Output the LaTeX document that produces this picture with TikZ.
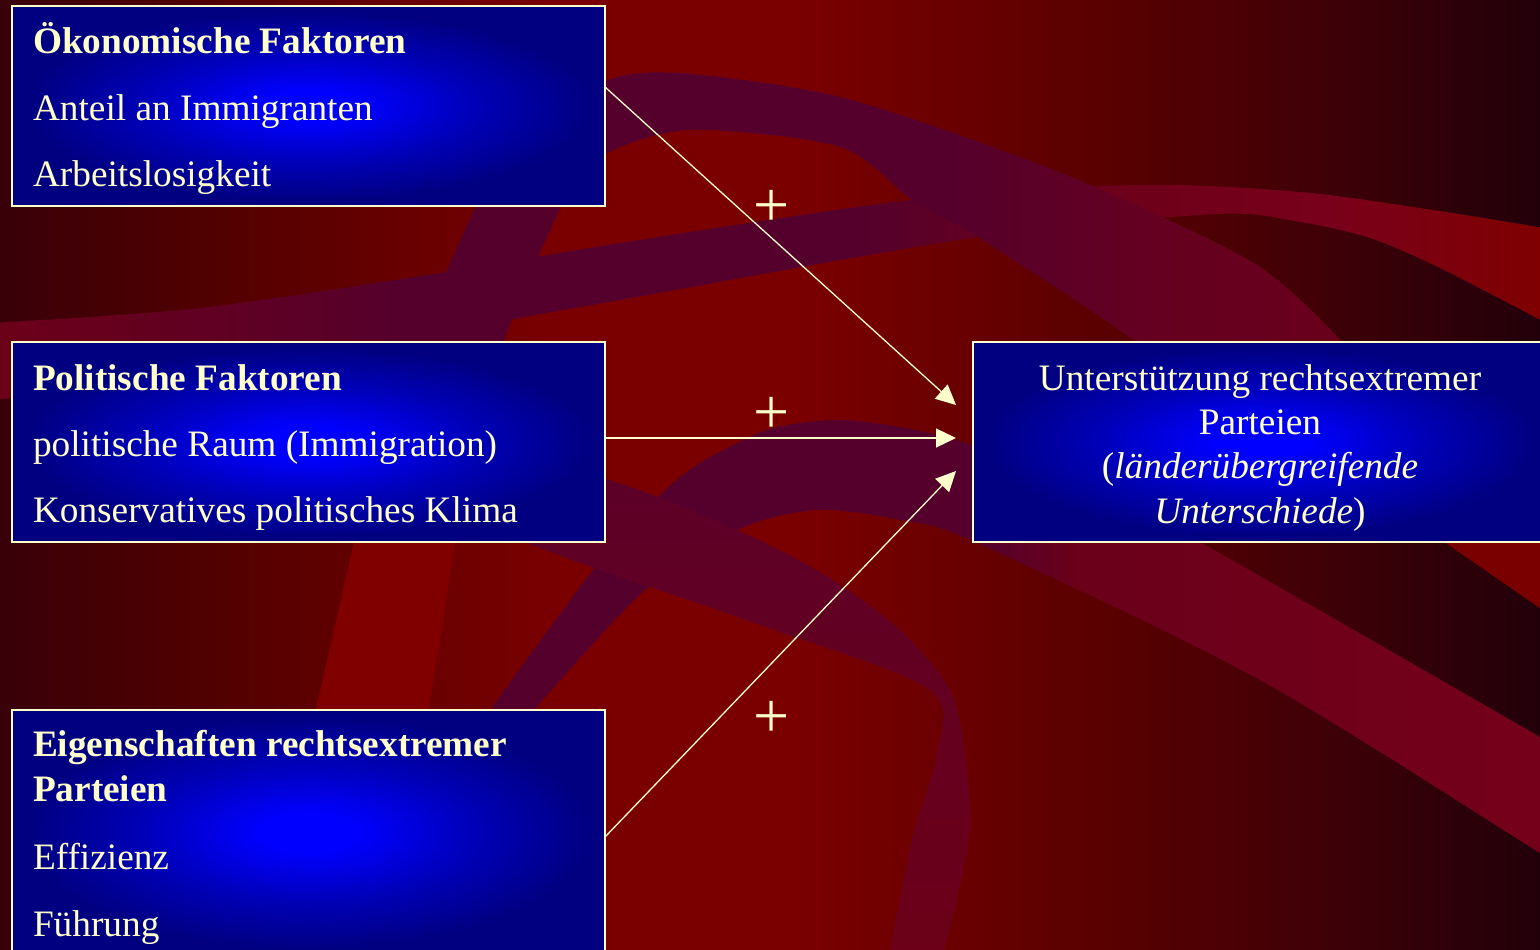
\documentclass[tikz,border=0pt]{standalone}
\usepackage{fontspec}
\setmainfont{Liberation Serif}
\usetikzlibrary{arrows.meta}
\definecolor{cream}{HTML}{FFFFCC}
\definecolor{bgA}{HTML}{380008}
\definecolor{bgB}{HTML}{520000}
\definecolor{bgC}{HTML}{7A0000}
\definecolor{bgD}{HTML}{5A0000}
\definecolor{bgE}{HTML}{420006}
\definecolor{bgF}{HTML}{22000A}
\definecolor{purp}{HTML}{55002C}
\definecolor{crimA}{HTML}{6C0018}
\definecolor{crimB}{HTML}{5A0028}
\definecolor{crimC}{HTML}{6A001A}
\definecolor{crimD}{HTML}{78001A}
\definecolor{redA}{HTML}{800000}
\definecolor{arcR}{HTML}{650020}
\definecolor{cCa}{HTML}{5C0028}
\definecolor{cCb}{HTML}{6C0018}
\definecolor{bBr}{HTML}{76001A}
\definecolor{boxC}{HTML}{0000FF}
\definecolor{boxM}{HTML}{0000B8}
\definecolor{boxE}{HTML}{000080}
\pgfdeclarehorizontalshading{bgshade}{100bp}{color(0bp)=(bgA); color(25bp)=(bgA); color(32.1bp)=(bgB); color(43.2bp)=(bgC); color(51bp)=(bgC); color(60.7bp)=(bgD); color(67.2bp)=(bgE); color(75bp)=(bgF); color(100bp)=(bgF)}
\pgfdeclarehorizontalshading{bandLshade}{100bp}{color(0bp)=(crimA); color(25bp)=(crimA); color(36bp)=(crimB); color(38bp)=(purp); color(53bp)=(purp); color(59bp)=(crimC); color(68bp)=(crimD); color(75bp)=(redA); color(100bp)=(redA)}
\pgfdeclarehorizontalshading{arcshade}{100bp}{color(0bp)=(purp); color(25bp)=(purp); color(52bp)=(purp); color(62bp)=(arcR); color(75bp)=(crimC); color(100bp)=(crimC)}
\pgfdeclarehorizontalshading{bandBshade}{100bp}{color(0bp)=(purp); color(25bp)=(purp); color(48bp)=(purp); color(52bp)=(crimC); color(75bp)=(bBr); color(100bp)=(bBr)}
\pgfdeclareradialshading{boxshade}{\pgfpoint{0bp}{0bp}}{color(0bp)=(boxC); color(4bp)=(boxC); color(14bp)=(boxM); color(24bp)=(boxE); color(50bp)=(boxE)}
\begin{document}
\begin{tikzpicture}[x=1pt,y=-1pt,
  txt/.style={text=cream, inner sep=0pt, outer sep=0pt, font=\fontsize{37.3}{44}\selectfont},
  fbox/.style={rectangle, draw=cream, line width=1.4pt, shade, shading=boxshade, inner sep=0pt, outer sep=0pt},
  conn/.style={draw=cream, line width=1.3pt, -{Triangle[length=20pt,width=19pt]}},
  plussign/.style={text=cream, inner sep=0pt, outer sep=0pt, font=\fontsize{64}{64}\selectfont, anchor=base}]
\useasboundingbox (0,0) rectangle (1540,950);
% background
\shade[shading=bgshade] (0,0) rectangle (1540,950);
\fill[redA] (359,520) -- (459,520) -- (424,740) -- (309,740) -- cycle;
\shade[shading=bandLshade] plot[smooth] coordinates {(-10,323) (200,308) (447,272) (620,243) (912,200) (1140,185) (1300,192) (1433,210) (1550,229)} -- plot[smooth] coordinates {(1550,325) (1440,268) (1370,238) (1300,222) (1217,214) (978,237) (620,300) (510,320) (420,342) (300,370) (-10,400)} -- cycle;
\shade[shading=arcshade] plot[smooth] coordinates {(400,400) (419,340) (476,207) (530,138) (600,83) (678,73) (840,97) (1020,157) (1140,207) (1260,267) (1343,343) (1420,440)} -- plot[smooth] coordinates {(1250,440) (1140,345) (978,237) (912,200) (840,147) (690,130) (600,157) (561,207) (504,340) (485,400)} -- cycle;
\shade[shading=bandBshade] plot[smooth] coordinates {(470,740) (490,710) (593,570) (658,497) (700,463) (767,430) (833,420) (900,427) (972,445) (1100,490) (1200,542) (1540,737) (1570,755)} -- plot[smooth] coordinates {(1570,870) (1540,853) (1260,680) (975,542) (900,520) (817,510) (737,530) (645,590) (534,710) (515,740)} -- cycle;
\shade[top color=cCa, bottom color=cCb] plot[smooth] coordinates {(540,460) (600,477) (658,497) (759,540) (833,580) (900,630) (950,690) (966,760) (969,840) (942,960)} -- plot[smooth] coordinates {(888,960) (912,840) (936,757) (930,690) (760,625) (600,570) (526,543) (480,525)} -- cycle;
\fill[bgC] (1427,530) -- (1560,530) -- (1560,622) -- cycle;
% boxes
\node[fbox, minimum width=593pt, minimum height=200pt] (b1) at (308.5,106) {};
\node[fbox, minimum width=593pt, minimum height=200pt] (b2) at (308.5,442) {};
\node[fbox, minimum width=593pt, minimum height=245pt] (b3) at (308.5,832.5) {};
\node[fbox, minimum width=575pt, minimum height=200pt] (r) at (1260.5,442) {};
% texts box 1
\node[txt, anchor=base west] (b1h) at (33,54) {\bfseries Ökonomische Faktoren};
\node[txt, anchor=base west] (b1a) at (33,120) {Anteil an Immigranten};
\node[txt, anchor=base west] (b1b) at (33,186) {Arbeitslosigkeit};
% texts box 2
\node[txt, anchor=base west] (b2h) at (33,390) {\bfseries Politische Faktoren};
\node[txt, anchor=base west] (b2a) at (33,456) {politische Raum (Immigration)};
\node[txt, anchor=base west] (b2b) at (33,522) {Konservatives politisches Klima};
% texts box 3
\node[txt, anchor=base west] (b3h) at (33,756) {\bfseries Eigenschaften rechtsextremer};
\node[txt, anchor=base west] (b3i) at (33,801) {\bfseries Parteien};
\node[txt, anchor=base west] (b3a) at (33,869) {Effizienz};
\node[txt, anchor=base west] (b3b) at (33,936) {Führung};
% texts right box
\node[txt, anchor=base] (r1) at (1260,390) {Unterstützung rechtsextremer};
\node[txt, anchor=base] (r2) at (1260,434) {Parteien};
\node[txt, anchor=base] (r3) at (1260,478) {(\textit{länderübergreifende}};
\node[txt, anchor=base] (r4) at (1260,523) {\textit{Unterschiede})};
% connector ends
\path (b1.east) ++(0,-19) coordinate (s1);
\path (b2.east) ++(0,-4) coordinate (s2);
\path (b3.east) ++(0,4.5) coordinate (s3);
\path (r.west) ++(-17,-37) coordinate (t1);
\path (r.west) ++(-17,-4) coordinate (t2);
\path (r.west) ++(-17,29) coordinate (t3);
\draw[conn] (s1) -- (t1);
\draw[conn] (s2) -- (t2);
\draw[conn] (s3) -- (t3);
% signs
\node[plussign] (p1) at (772,226) {+};
\node[plussign] (p2) at (772,433) {+};
\node[plussign] (p3) at (772,737) {+};
\end{tikzpicture}
\end{document}
